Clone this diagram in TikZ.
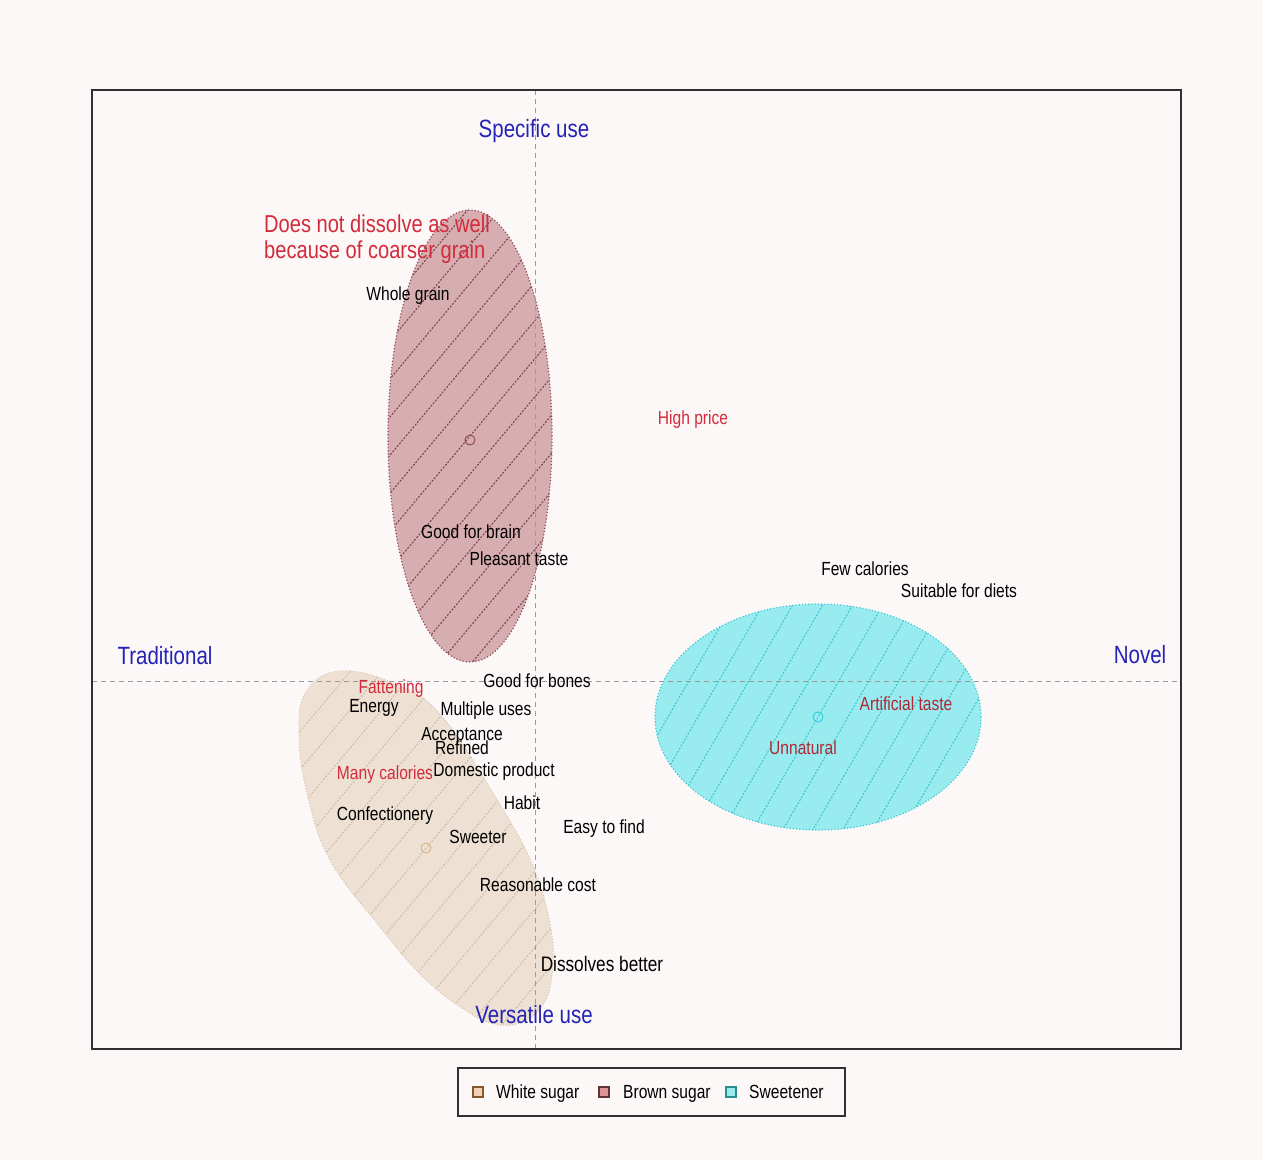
\documentclass[tikz,border=0pt]{standalone}
\usepackage{fontspec}
\setmainfont[FakeStretch=0.82]{Liberation Sans}
\definecolor{bg}{HTML}{FDF8F8}
\definecolor{brownfill}{HTML}{D6AEB1}
\definecolor{brownline}{HTML}{8E4B55}
\definecolor{brownhatch}{HTML}{7A3E45}
\definecolor{whitefill}{HTML}{EEE1D4}
\definecolor{whiteline}{HTML}{D5C2AE}
\definecolor{whitehatch}{HTML}{CDBBA8}
\definecolor{cyanfill}{HTML}{98ECF0}
\definecolor{cyanline}{HTML}{3CC8D2}
\definecolor{cyanhatch}{HTML}{3EC3CC}
\definecolor{labred}{HTML}{D32B3B}
\definecolor{darkred}{HTML}{B02835}
\definecolor{axblue}{HTML}{2323B4}
\definecolor{framegray}{HTML}{303030}
\definecolor{axisgray}{HTML}{9A9A9A}
\begin{document}
\begin{tikzpicture}[x=1pt,y=-1pt,
  lbl/.style={font=\fontsize{19}{19}\selectfont, text=black, anchor=base, inner sep=0pt},
  redlbl/.style={lbl, text=labred},
  dredlbl/.style={lbl, text=darkred},
  axlbl/.style={font=\fontsize{25}{25}\selectfont, text=axblue, anchor=base, inner sep=0pt},
  titlelbl/.style={font=\fontsize{24.5}{24.5}\selectfont, text=labred, anchor=base west, inner sep=0pt},
  axisline/.style={draw=axisgray, line width=0.8pt, dash pattern=on 5pt off 4pt},
  hatchline/.style={line width=1pt, dash pattern=on 2pt off 1.5pt},
  marker/.style={circle, inner sep=0pt, minimum size=10pt, line width=1pt},
  legsq/.style={rectangle, inner sep=0pt, minimum size=10pt, line width=1.3pt}]
\useasboundingbox (0,0) rectangle (1263,1160);
\fill[bg] (0,0) rectangle (1263,1160);

% brown sugar ellipse
\fill[brownfill] (470,436) ellipse (82pt and 226pt);
\begin{scope}
  \clip (470,436) ellipse (82pt and 226pt);
  \foreach \k in {-10,...,10}
    \draw[hatchline, brownhatch] (470+32*\k,436) ++(230:420pt) -- ++(50:840pt);
\end{scope}
\draw[brownline, line width=1.2pt, dotted] (470,436) ellipse (82pt and 226pt);

% white sugar region
\fill[whitefill] plot[smooth cycle, tension=0.7] coordinates {(340,671) (395,684) (440,714) (493,793) (533,866) (551,930) (552,975) (543,1005) (522,1022) (495,1024) (465,1010) (423,977) (380,927) (330,860) (307,793) (299,735) (306,692)};
\begin{scope}
  \clip plot[smooth cycle, tension=0.7] coordinates {(340,671) (395,684) (440,714) (493,793) (533,866) (551,930) (552,975) (543,1005) (522,1022) (495,1024) (465,1010) (423,977) (380,927) (330,860) (307,793) (299,735) (306,692)};
  \foreach \k in {-10,...,10}
    \draw[hatchline, whitehatch] (427+32*\k,847) ++(230:420pt) -- ++(50:840pt);
\end{scope}
\draw[whiteline, line width=1pt, dotted] plot[smooth cycle, tension=0.7] coordinates {(340,671) (395,684) (440,714) (493,793) (533,866) (551,930) (552,975) (543,1005) (522,1022) (495,1024) (465,1010) (423,977) (380,927) (330,860) (307,793) (299,735) (306,692)};

% sweetener ellipse
\fill[cyanfill] (818,717) ellipse (163pt and 113pt);
\begin{scope}
  \clip (818,717) ellipse (163pt and 113pt);
  \foreach \k in {-9,...,9}
    \draw[hatchline, cyanhatch] (818+30*\k,717) ++(240:300pt) -- ++(60:600pt);
\end{scope}
\draw[cyanline, line width=1.2pt, dotted] (818,717) ellipse (163pt and 113pt);

% axes
\draw[axisline] (535,90) -- (535,1049);
\draw[axisline] (92,681) -- (1181,681);

% frame
\draw[framegray, line width=1.8pt] (92,90) rectangle (1181,1049);

% centroid markers
\node[marker, draw=brownline] (mbrown) at (470,440) {};
\node[marker, draw=whiteline!80!orange] (mwhite) at (426,848) {};
\node[marker, draw=cyanline!80!cyan] (mcyan) at (818,717) {};

% axis labels
\node[axlbl] (spec) at (534,137) {Specific use};
\node[axlbl] (vers) at (534,1023) {Versatile use};
\node[axlbl] (trad) at (165,664) {Traditional};
\node[axlbl] (novel) at (1140,663) {Novel};

% title
\node[titlelbl] (t1) at (264,232) {Does not dissolve as well};
\node[titlelbl] (t2) at (264,258) {because of coarser grain};

% labels
\node[lbl] (wg) at (408,300) {Whole grain};
\node[redlbl] (hp) at (693,424) {High price};
\node[lbl] (gbr) at (471,538) {Good for brain};
\node[lbl] (pt) at (519,565) {Pleasant taste};
\node[lbl] (fc) at (865,575) {Few calories};
\node[lbl] (sd) at (959,597) {Suitable for diets};
\node[lbl] (gbo) at (537,687) {Good for bones};
\node[redlbl] (fat) at (391,693) {Fattening};
\node[lbl] (en) at (374,712) {Energy};
\node[lbl] (mu) at (486,715) {Multiple uses};
\node[lbl] (acc) at (462,740) {Acceptance};
\node[lbl] (ref) at (462,754) {Refined};
\node[redlbl] (mc) at (385,779) {Many calories};
\node[lbl] (dp) at (494,776) {Domestic product};
\node[lbl] (hab) at (522,809) {Habit};
\node[lbl] (conf) at (385,820) {Confectionery};
\node[lbl] (eas) at (604,833) {Easy to find};
\node[lbl] (sw) at (478,843) {Sweeter};
\node[lbl] (rc) at (538,891) {Reasonable cost};
\node[lbl, font=\fontsize{21}{21}\selectfont] (db) at (602,971) {Dissolves better};
\node[dredlbl] (at) at (906,710) {Artificial taste};
\node[dredlbl] (un) at (803,754) {Unnatural};

% legend
\node[draw=framegray, line width=1.5pt, minimum width=387pt, minimum height=48pt, inner sep=0pt] (legend) at (651.5,1092) {};
\node[legsq, fill=whitefill!85!orange, draw=brown!70!black] (sqw) at (478,1092) {};
\node[legsq, fill=brownfill!85!red, draw=brownhatch!80!black] (sqb) at (604,1092) {};
\node[legsq, fill=cyanfill, draw=cyanline!70!black] (sqc) at (731,1092) {};
\node[lbl, anchor=base west] (lw) at (496,1098) {White sugar};
\node[lbl, anchor=base west] (lb) at (623,1098) {Brown sugar};
\node[lbl, anchor=base west] (lc) at (749,1098) {Sweetener};
\end{tikzpicture}
\end{document}
